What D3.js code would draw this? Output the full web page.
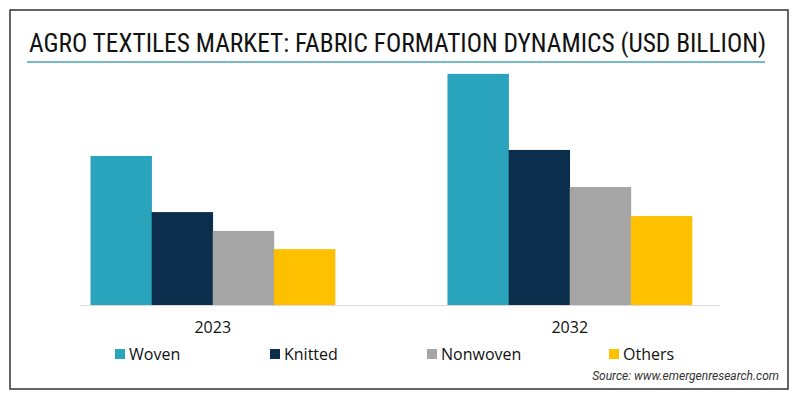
<!DOCTYPE html>
<html>
<head>
<meta charset="utf-8">
<script src="https://cdn.jsdelivr.net/npm/d3@7"></script>
<style>
  html, body { margin: 0; padding: 0; background: #fff; }
  svg { display: block; }
</style>
</head>
<body>
<svg id="chart" width="800" height="400"></svg>
<script>
const years = ["2023", "2032"];
const seriesNames = ["Woven", "Knitted", "Nonwoven", "Others"];
const woven = [5.23, 8.11];
const knitted = [3.26, 5.44];
const nonwoven = [2.60, 4.14];
const others = [1.96, 3.12];
const colors = ["#2aa3bc", "#0a2e4b", "#a5a5a5", "#ffc000"];
const titleText = "AGRO TEXTILES MARKET: FABRIC FORMATION DYNAMICS (USD BILLION)";
const sourceText = "Source: www.emergenresearch.com";

const seriesValues = [woven, knitted, nonwoven, others];
const data = years.map((y, i) => ({
  year: y,
  values: seriesNames.map((s, j) => ({ key: s, value: seriesValues[j][i] }))
}));

const svg = d3.select("#chart");

// outer border
svg.append("rect")
  .attr("x", 10).attr("y", 10)
  .attr("width", 778).attr("height", 379)
  .attr("fill", "none").attr("stroke", "#333").attr("stroke-width", 1.5);

// title
svg.append("text")
  .attr("x", 29).attr("y", 52)
  .attr("font-family", "'Liberation Sans Narrow', 'Roboto Condensed', Roboto, sans-serif")
  .attr("font-size", 25)
  .attr("font-weight", 400)
  .attr("fill", "#111")
  .attr("textLength", 737)
  .attr("lengthAdjust", "spacingAndGlyphs")
  .text(titleText);

svg.append("line")
  .attr("x1", 27).attr("x2", 765)
  .attr("y1", 62).attr("y2", 62)
  .attr("stroke", "#4aa3b5").attr("stroke-width", 1.5);

// scales
const baseline = 305;
const y = d3.scaleLinear().domain([0, 10]).range([baseline, 20]);
const x0 = d3.scaleBand().domain(years).range([90.5, 692]).paddingInner(0.315).paddingOuter(0);
const x1 = d3.scaleBand().domain(seriesNames).range([0, x0.bandwidth()]).padding(0);
const color = d3.scaleOrdinal().domain(seriesNames).range(colors);

// bars
const groups = svg.append("g").selectAll("g")
  .data(data).join("g")
  .attr("transform", d => `translate(${x0(d.year)},0)`);

groups.selectAll("rect")
  .data(d => d.values).join("rect")
  .attr("x", d => x1(d.key))
  .attr("width", x1.bandwidth() + 0.3)
  .attr("y", d => y(d.value))
  .attr("height", d => y(0) - y(d.value))
  .attr("fill", d => color(d.key));

// baseline
svg.append("line")
  .attr("x1", 80).attr("x2", 720)
  .attr("y1", baseline + 0.5).attr("y2", baseline + 0.5)
  .attr("stroke", "#d9d9d9").attr("stroke-width", 1);

// x axis labels
const xAxis = d3.axisBottom(x0).tickSize(0).tickPadding(0);
const ax = svg.append("g").attr("transform", `translate(0,${baseline})`).call(xAxis);
ax.select(".domain").remove();
ax.selectAll("text")
  .attr("dy", null)
  .attr("y", 28)
  .attr("font-family", "'Open Sans', sans-serif")
  .attr("font-size", 16)
  .attr("fill", "#111");

// legend
const legendX = [115, 270, 427, 609];
const legend = svg.append("g").selectAll("g")
  .data(seriesNames).join("g")
  .attr("transform", (d, i) => `translate(${legendX[i]},349)`);
legend.append("rect")
  .attr("width", 10).attr("height", 10)
  .attr("fill", d => color(d));
legend.append("text")
  .attr("x", 14).attr("y", 10.5)
  .attr("font-family", "'Open Sans', sans-serif")
  .attr("font-size", 16)
  .attr("fill", "#111")
  .text(d => d);

// source
svg.append("text")
  .attr("x", 779).attr("y", 380)
  .attr("text-anchor", "end")
  .attr("font-family", "Roboto, sans-serif")
  .attr("font-style", "italic")
  .attr("font-size", 12)
  .attr("fill", "#333")
  .text(sourceText);
</script>
</body>
</html>
